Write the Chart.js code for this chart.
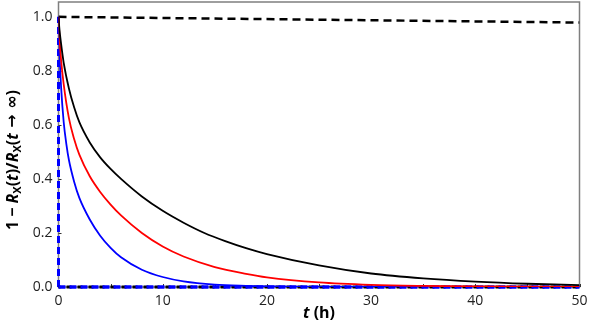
<!DOCTYPE html>
<html>
<head>
<meta charset="utf-8">
<script src="https://cdn.jsdelivr.net/npm/chart.js@4.4.1/dist/chart.umd.min.js"></script>
<style>
  html, body { margin: 0; padding: 0; background: #fff; }
  #wrap { width: 591px; height: 329px; position: relative; }
</style>
</head>
<body>
<div id="wrap"><canvas id="chart" width="591" height="329"></canvas></div>
<script>
// values
const tBlack = [0, 0.1, 0.25, 0.5, 1, 1.5, 2, 3, 4, 5, 6, 8, 10, 12, 14, 16, 18, 20, 25, 30, 35, 40, 45, 50];
const yBlack = [1.0, 0.95, 0.9, 0.83, 0.735, 0.665, 0.61, 0.535, 0.48, 0.437, 0.40, 0.335, 0.282, 0.238, 0.2, 0.17, 0.144, 0.122, 0.08, 0.05, 0.032, 0.02, 0.012, 0.007];

const tRed = [0, 0.1, 0.25, 0.5, 1, 1.5, 2, 3, 4, 5, 6, 8, 10, 12, 15, 18, 20, 25, 30, 35, 40, 45, 50];
const yRed = [1.0, 0.92, 0.84, 0.75, 0.625, 0.548, 0.49, 0.41, 0.352, 0.305, 0.265, 0.2, 0.15, 0.113, 0.074, 0.049, 0.036, 0.017, 0.008, 0.004, 0.002, 0.001, 0.0005];

const tBlue = [0, 0.1, 0.25, 0.5, 0.75, 1, 1.5, 2, 3, 4, 5, 6, 8, 10, 12, 15, 18, 20, 25, 30, 40, 50];
const yBlue = [1.0, 0.86, 0.74, 0.61, 0.53, 0.47, 0.39, 0.33, 0.25, 0.19, 0.145, 0.11, 0.064, 0.037, 0.021, 0.009, 0.004, 0.002, 0.0005, 0, 0, 0];

const tTopDash = [0, 50];
const yTopDash = [1.0, 0.979];
const tVertDash = [0, 0];
const yVertDash = [0, 1.0];
const tZero = [0, 50];
const yZero = [0, 0];

const xTicks = [0, 10, 20, 30, 40, 50];
const xMinorTicks = [5, 15, 25, 35, 45];
const yTicks = [0, 0.2, 0.4, 0.6, 0.8, 1.0];

const toPts = (xs, ys) => xs.map((x, i) => ({ x: x, y: ys[i] }));

const tickFont = { family: "'Open Sans', sans-serif", size: 14 };

// frame and inner tick marks go under the lines, titles on top
const decorPlugin = {
  id: "decor",
  beforeDatasetsDraw(chart) {
    const ctx = chart.ctx;
    const a = chart.chartArea;
    const xs = chart.scales.x, ys = chart.scales.y;
    ctx.save();
    ctx.strokeStyle = "#7f7f7f";
    ctx.lineWidth = 1.5;
    ctx.strokeRect(a.left, a.top, a.right - a.left, a.bottom - a.top);

    ctx.strokeStyle = "#333";
    ctx.lineWidth = 1;
    ctx.beginPath();
    xTicks.concat(xMinorTicks).forEach(v => {
      const px = Math.round(xs.getPixelForValue(v)) + 0.5;
      ctx.moveTo(px, a.bottom);
      ctx.lineTo(px, a.bottom - 3);
    });
    yTicks.forEach(v => {
      const py = Math.round(ys.getPixelForValue(v)) + 0.5;
      ctx.moveTo(a.left, py);
      ctx.lineTo(a.left + 3, py);
    });
    ctx.stroke();
    ctx.restore();
  },
  afterDraw(chart) {
    const ctx = chart.ctx;
    const a = chart.chartArea;
    // x title: t (h)
    drawRich(ctx, [
      { text: "t", italic: true },
      { text: " (h)" }
    ], (a.left + a.right) / 2, 313, 0);

    // y title: 1 − R_X(t)/R_X(t → ∞)
    drawRich(ctx, [
      { text: "1 − " },
      { text: "R", italic: true },
      { text: "X", sub: true },
      { text: "(" },
      { text: "t", italic: true },
      { text: ")/" },
      { text: "R", italic: true },
      { text: "X", sub: true },
      { text: "(" },
      { text: "t", italic: true },
      { text: " → ∞", sym: true },
      { text: ")" }
    ], 13, 160, -Math.PI / 2);
  }
};

function drawRich(ctx, parts, cx, cy, rot) {
  const size = 16;
  const fontOf = p => (p.italic ? "italic " : "") + "bold " + (p.sub ? Math.round(size * 0.7) : size) + "px " +
    (p.sym ? "'DejaVu Sans', sans-serif" : "'Open Sans', sans-serif");
  let total = 0;
  parts.forEach(p => { ctx.font = fontOf(p); p.w = ctx.measureText(p.text).width; total += p.w; });
  ctx.save();
  ctx.translate(cx, cy);
  ctx.rotate(rot);
  ctx.fillStyle = "#000";
  ctx.textBaseline = "middle";
  ctx.textAlign = "left";
  let x = -total / 2;
  parts.forEach(p => {
    ctx.font = fontOf(p);
    ctx.fillText(p.text, x, p.sub ? 5 : 0);
    x += p.w;
  });
  ctx.restore();
}

new Chart(document.getElementById("chart"), {
  type: "line",
  data: {
    datasets: [
      { data: toPts(tBlack, yBlack), borderColor: "#000000", borderWidth: 1.8, cubicInterpolationMode: "monotone" },
      { data: toPts(tRed, yRed), borderColor: "#ff0000", borderWidth: 1.8, cubicInterpolationMode: "monotone" },
      { data: toPts(tBlue, yBlue), borderColor: "#0000ff", borderWidth: 1.8, cubicInterpolationMode: "monotone" },
      { data: toPts(tTopDash, yTopDash), borderColor: "#000000", borderWidth: 2.5, borderDash: [8, 5] },
      { data: toPts(tZero, yZero), borderColor: "#0000ff", borderWidth: 3.5, borderDash: [7, 4], clip: 4 },
      { data: toPts(tZero, yZero), borderColor: "#000000", borderWidth: 3, borderDash: [5, 6], borderDashOffset: 3, clip: 4 },
      { data: toPts(tVertDash, yVertDash), borderColor: "#0000ff", borderWidth: 3, borderDash: [7, 4], clip: 4 }
    ]
  },
  options: {
    responsive: false,
    animation: false,
    events: [],
    elements: { point: { radius: 0 } },
    layout: { padding: { top: 2, right: 11.5, left: 0, bottom: 0 } },
    plugins: { legend: { display: false }, tooltip: { enabled: false } },
    scales: {
      x: {
        type: "linear",
        min: 0,
        max: 50,
        grid: { display: false, drawTicks: false },
        border: { display: false },
        afterBuildTicks: s => { s.ticks = xTicks.map(v => ({ value: v })); },
        afterFit: s => { s.height = 42; s.paddingRight = 0; s.paddingLeft = 0; },
        ticks: { color: "#222", font: tickFont, padding: 6, maxRotation: 0 }
      },
      y: {
        min: 0,
        max: 1.055,
        grid: { display: false, drawTicks: false },
        border: { display: false },
        afterBuildTicks: s => { s.ticks = yTicks.map(v => ({ value: v })); },
        afterFit: s => { s.width = 58.5; s.paddingTop = 0; s.paddingBottom = 0; },
        ticks: { color: "#222", font: tickFont, padding: 6, callback: v => v.toFixed(1) }
      }
    }
  },
  plugins: [decorPlugin]
});
</script>
</body>
</html>
